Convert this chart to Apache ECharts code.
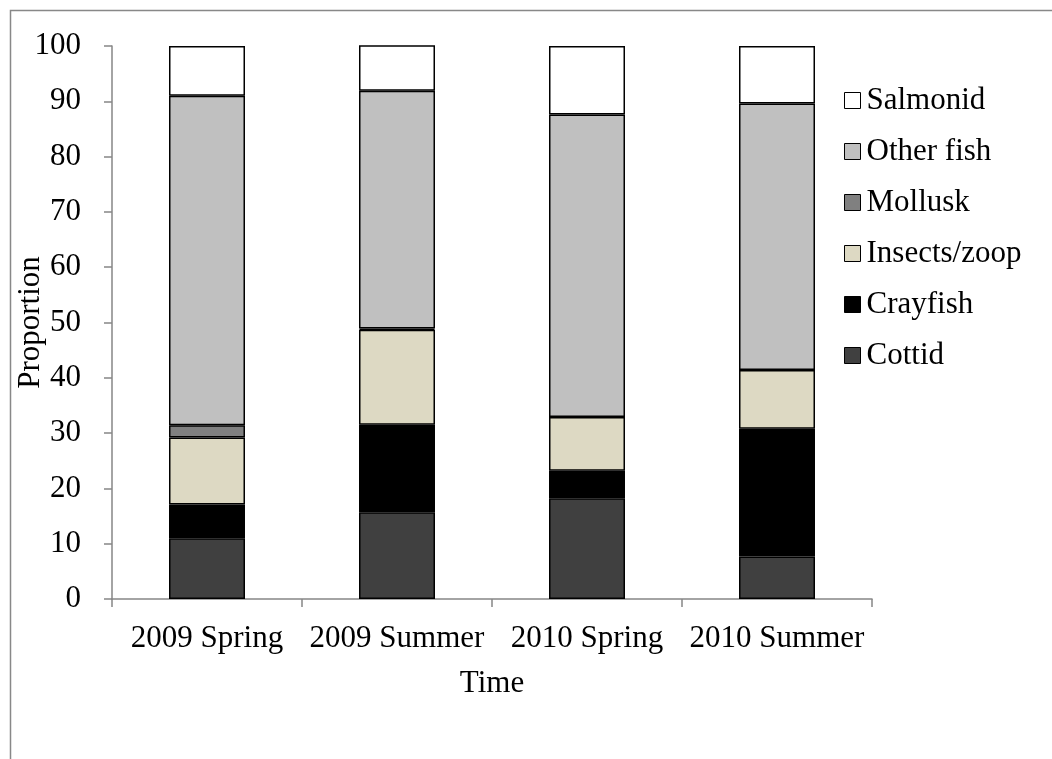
<!DOCTYPE html>
<html>
<head>
<meta charset="utf-8">
<script src="https://cdn.jsdelivr.net/npm/echarts@6/dist/echarts.min.js"></script>
<style>
html,body{margin:0;padding:0;background:#fff;}
#chart{width:1052px;height:759px;}
</style>
</head>
<body>
<div id="chart"></div>
<script>
var categories = ['2009 Spring', '2009 Summer', '2010 Spring', '2010 Summer'];
var cottid    = [11.0, 15.7, 18.2, 7.7];
var crayfish  = [6.1, 15.8, 5.0, 23.1];
var insects   = [12.1, 17.2, 9.7, 10.6];
var mollusk   = [2.2, 0.2, 0, 0];
var otherFish = [59.6, 43.0, 54.7, 48.2];
var salmonid  = [9.0, 8.3, 12.4, 10.4];
var yTicks = [0, 10, 20, 30, 40, 50, 60, 70, 80, 90, 100];

var FONT = "'Liberation Serif', 'Times New Roman', serif";
var FS = 31;
var chart = echarts.init(document.getElementById('chart'));

function mk(name, data, color) {
  return {
    name: name, type: 'bar', stack: 'total', data: data,
    barWidth: 76,
    itemStyle: { color: color, borderColor: '#000', borderWidth: 1.5 },
    emphasis: { disabled: true }
  };
}

chart.setOption({
  animation: false,
  backgroundColor: '#fff',
  graphic: [{
    type: 'rect', silent: true, z: -1,
    shape: { x: 10.5, y: 10.5, width: 1200, height: 900 },
    style: { fill: 'none', stroke: '#888', lineWidth: 1.5 }
  }],
  grid: { left: 112, right: 180, top: 46, bottom: 160, containLabel: false, outerBoundsMode: 'none' },
  legend: {
    orient: 'vertical', left: 844, top: 85, padding: 0,
    itemWidth: 16, itemHeight: 16, itemGap: 20,
    icon: 'rect',
    data: ['Salmonid', 'Other fish', 'Mollusk', 'Insects/zoop', 'Crayfish', 'Cottid'],
    textStyle: { fontFamily: FONT, fontSize: FS, color: '#000', padding: [0, 0, 0, 1] },
    itemStyle: { borderColor: '#000', borderWidth: 1 }
  },
  xAxis: {
    type: 'category', data: categories,
    name: 'Time', nameLocation: 'middle', nameGap: 69, nameMoveOverlap: false,
    nameTextStyle: { fontFamily: FONT, fontSize: FS, color: '#000' },
    axisLine: { lineStyle: { color: '#868686', width: 1.5 } },
    axisTick: { show: true, length: 8, lineStyle: { color: '#868686', width: 1.5 } },
    axisLabel: { fontFamily: FONT, fontSize: FS, color: '#000', margin: 24, interval: 0 }
  },
  yAxis: {
    type: 'value', min: yTicks[0], max: yTicks[yTicks.length - 1], interval: 10,
    name: 'Proportion', nameLocation: 'middle', nameGap: 66, nameMoveOverlap: false,
    nameTextStyle: { fontFamily: FONT, fontSize: FS, color: '#000' },
    axisLine: { show: true, lineStyle: { color: '#868686', width: 1.5 } },
    axisTick: { show: true, length: 8, lineStyle: { color: '#868686', width: 1.5 } },
    axisLabel: { fontFamily: FONT, fontSize: FS, color: '#000', margin: 31 },
    splitLine: { show: false }
  },
  series: [
    mk('Cottid', cottid, '#404040'),
    mk('Crayfish', crayfish, '#000000'),
    mk('Insects/zoop', insects, '#DDD9C3'),
    mk('Mollusk', mollusk, '#808080'),
    mk('Other fish', otherFish, '#C0C0C0'),
    mk('Salmonid', salmonid, '#FFFFFF')
  ]
});
</script>
</body>
</html>
